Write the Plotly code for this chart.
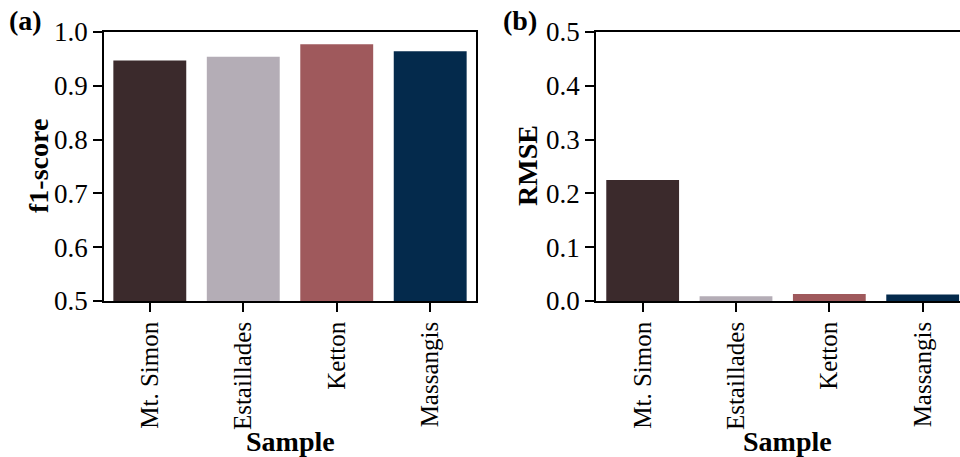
import plotly.graph_objects as go

samples = ["Mt. Simon", "Estaillades", "Ketton", "Massangis"]
f1_scores = [0.947, 0.954, 0.977, 0.964]
rmse_values = [0.225, 0.009, 0.013, 0.012]
colors = ["#3b2a2c", "#b4adb6", "#9f595c", "#042a4c"]
f1_ticks = [0.5, 0.6, 0.7, 0.8, 0.9, 1.0]
rmse_ticks = [0.0, 0.1, 0.2, 0.3, 0.4, 0.5]

FONT = "Liberation Serif, Times New Roman, serif"
W, H = 960, 457
TOP, BOTTOM = 32, 301  # plot area pixel bounds

fig = go.Figure()
fig.add_trace(go.Bar(x=samples, y=f1_scores, marker_color=colors, marker_line_width=0,
                     xaxis="x", yaxis="y", showlegend=False))
fig.add_trace(go.Bar(x=samples, y=rmse_values, marker_color=colors, marker_line_width=0,
                     xaxis="x2", yaxis="y2", showlegend=False))

axis_common = dict(showline=True, linecolor="black", linewidth=1.6, ticks="outside",
                   ticklen=9, tickwidth=1.6, tickcolor="black", showgrid=False, zeroline=False,
                   automargin=False)
xfont = dict(family=FONT, size=25, color="black")
yfont = dict(family=FONT, size=27, color="black")

fig.update_layout(
    width=W, height=H,
    margin=dict(l=0, r=0, t=TOP, b=H - BOTTOM, pad=0),
    plot_bgcolor="white", paper_bgcolor="white",
    bargap=0.22,
    xaxis=dict(domain=[104 / W, 476 / W], range=[-0.49, 3.49], mirror=True, tickangle=-90,
               anchor="y", tickfont=xfont, **axis_common),
    yaxis=dict(domain=[0, 1], range=[0.5, 1.0], tickvals=f1_ticks, tickformat=".1f",
               mirror=True, anchor="x", tickfont=yfont, **axis_common),
    xaxis2=dict(domain=[596 / W, 1.0], range=[-0.5, 3.4], mirror=True, tickangle=-90,
                anchor="y2", tickfont=xfont, **axis_common),
    yaxis2=dict(domain=[0, 1], range=[0.0, 0.5], tickvals=rmse_ticks, tickformat=".1f",
                mirror=False, anchor="x2", tickfont=yfont, **axis_common),
)

title_font = dict(family=FONT, size=28, color="black")
annos = [
    ("<b>f1-score</b>", 38, 166, -90),
    ("<b>RMSE</b>", 527, 166, -90),
    ("<b>Sample</b>", 290, 441, 0),
    ("<b>Sample</b>", 787, 441, 0),
    ("<b>(a)</b>", 25, 20, 0),
    ("<b>(b)</b>", 520, 20, 0),
]
for text, px, py, ang in annos:
    fig.add_annotation(text=text, x=px / W, y=(BOTTOM - py) / (BOTTOM - TOP),
                       xref="paper", yref="paper", showarrow=False, textangle=ang,
                       font=title_font, xanchor="center", yanchor="middle")

fig.write_html("out.html", config={"displayModeBar": False},
               post_script="document.body.style.margin='0';document.body.style.overflow='hidden';")
